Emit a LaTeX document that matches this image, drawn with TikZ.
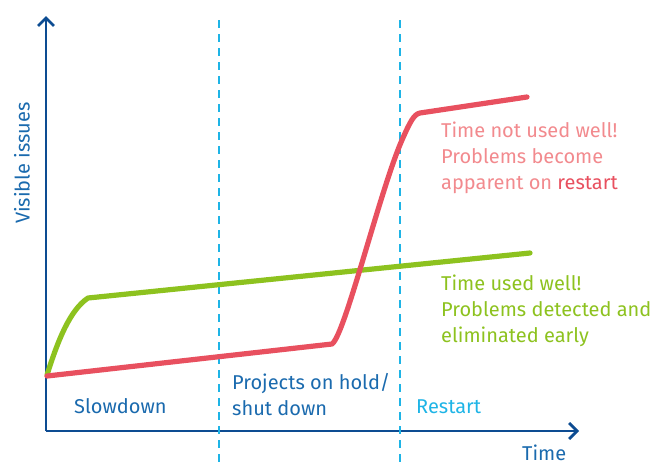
\documentclass[tikz,border=0pt]{standalone}
\usepackage{fontspec}
\setmainfont{Fira Sans}
\usetikzlibrary{arrows.meta}
\definecolor{axisblue}{HTML}{0D4C92}
\definecolor{textblue}{HTML}{1A6AAE}
\definecolor{phasecyan}{HTML}{1EB4E6}
\definecolor{badred}{HTML}{E8505F}
\definecolor{badtext}{HTML}{F28A8E}
\definecolor{goodgreen}{HTML}{8DC21F}
\tikzset{
  axis/.style={draw=axisblue, line width=2.8pt, -{Straight Barb[length=8pt,width=16pt,line width=2.8pt]}},
  phase/.style={draw=phasecyan, line width=2.4pt, dash pattern=on 8pt off 6pt},
  curve/.style={line width=5.2pt, line join=round, line cap=round},
  lbl/.style={font=\fontsize{20}{26}\selectfont, inner sep=0pt, anchor=base west, align=left},
}
\begin{document}
\begin{tikzpicture}[x=1pt, y=-1pt]
  \useasboundingbox (0,0) rectangle (668,466);
  % axes
  \coordinate (o) at (46,431);
  \coordinate (ytop) at (46,16);
  \coordinate (xend) at (579,431);
  \draw[axis] (o) -- (ytop);
  \draw[axis] (o) -- (xend);
  % phase boundaries
  \coordinate (p1t) at (219,20);
  \coordinate (p1b) at (219,462);
  \coordinate (p2t) at (400,20);
  \coordinate (p2b) at (400,462);
  \draw[phase] (p1t) -- (p1b);
  \draw[phase] (p2t) -- (p2b);
  % curves
  \coordinate (g0) at (47,375);
  \coordinate (g1) at (88,298);
  \coordinate (g2) at (530,253);
  \draw[curve, goodgreen] (g0) .. controls (58,340) and (70,310) .. (g1) -- (g2);
  \coordinate (r0) at (47,376);
  \coordinate (r1) at (332,344);
  \coordinate (r2) at (420,113);
  \coordinate (r3) at (527,97);
  \draw[curve, badred] (r0) -- (r1) .. controls (345,335) and (380,190) .. (402,140)
        .. controls (410,122) and (414,114) .. (r2) -- (r3);
  % labels
  \node[lbl, rotate=90, text=textblue, anchor=center] (ylab) at (22,163) {Visible issues};
  \node[lbl, text=textblue] (xlab) at (522,460) {Time};
  \node[lbl, text=textblue] (slow) at (74,413) {Slowdown};
  \node[lbl, text=textblue, anchor=north west] (hold) at (232,373) {Projects on hold/\\shut down};
  \node[lbl, text=phasecyan] (restart) at (416,413) {Restart};
  \node[lbl, text=badtext, anchor=north west] (bad) at (441,122)
    {Time not used well!\\Problems become\\apparent on \textcolor{badred}{restart}};
  \node[lbl, text=goodgreen, anchor=north west] (good) at (441,275)
    {Time used well!\\Problems detected and\\eliminated early};
\end{tikzpicture}
\end{document}
